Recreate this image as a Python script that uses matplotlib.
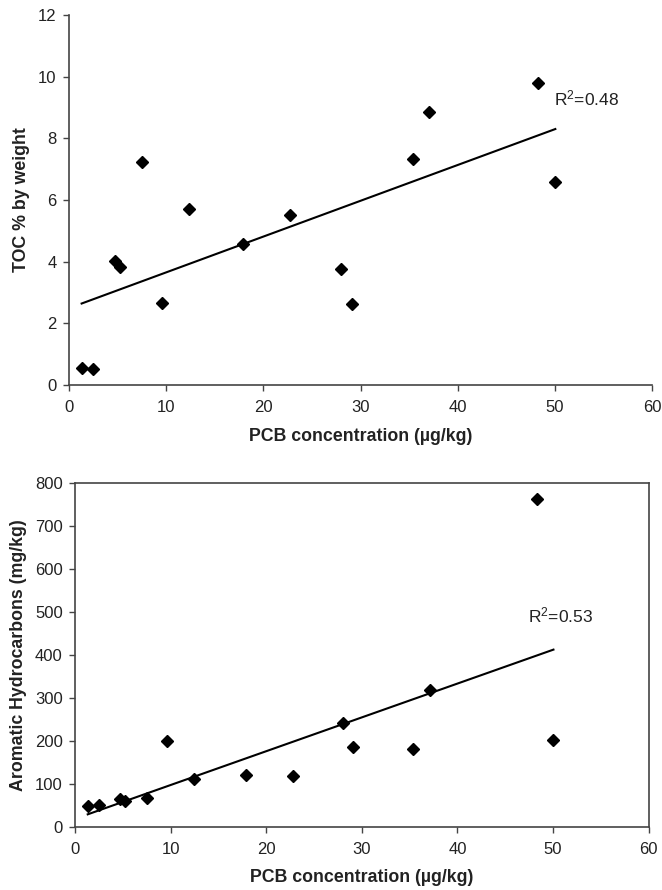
import matplotlib
matplotlib.use("agg")
from matplotlib import pyplot as plt
import numpy as np

plt.rcParams["font.family"] = ["Liberation Sans", "DejaVu Sans"]
plt.rcParams["mathtext.default"] = "regular"

# PCB concentration (ug/kg), shared by both panels
pcb = [1.3, 2.5, 4.7, 5.2, 7.5, 9.6, 12.4, 17.9, 22.75, 28.0, 29.1, 35.4, 37.1, 48.3, 50.05]
toc = [0.54, 0.51, 4.02, 3.84, 7.24, 2.67, 5.70, 4.56, 5.50, 3.77, 2.64, 7.33, 8.85, 9.81, 6.59]
aromatic = [47, 50, 64, 60, 67, 200, 112, 121, 119, 241, 186, 181, 317, 761, 202]
r2_labels = ["R$^{2}$=0.48", "R$^{2}$=0.53"]

fig = plt.figure(figsize=(6.62, 8.9), dpi=100)
ax1 = fig.add_axes([69 / 662, 1 - 385 / 890, 583 / 662, 370 / 890])
ax2 = fig.add_axes([75.3 / 662, 1 - 826.7 / 890, 573.2 / 662, 344 / 890])


def panel(ax, y, ylabel, yticks, r2, r2pos, box):
    x = np.array(pcb)
    y = np.array(y)
    k, b = np.polyfit(x, y, 1)
    xs = np.array([x.min(), x.max()])
    ax.plot(xs, k * xs + b, color="black", lw=1.5, zorder=2)
    ax.plot(x, y, "D", color="black", ms=6, zorder=3)
    ax.set_xlim(0, 60)
    ax.set_ylim(yticks[0], yticks[-1])
    ax.set_xticks(range(0, 61, 10))
    ax.set_yticks(yticks)
    ax.tick_params(direction="out", length=4, width=1, color="#444444",
                   labelsize=12, labelcolor="#222222")
    ax.tick_params(axis="x", pad=7)
    ax.tick_params(axis="y", pad=5)
    for side in ["left", "bottom", "top", "right"]:
        ax.spines[side].set_color("#444444")
        ax.spines[side].set_linewidth(1.2)
    if not box:
        ax.spines["top"].set_visible(False)
        ax.spines["right"].set_visible(False)
    ax.set_xlabel("PCB concentration (µg/kg)", fontsize=12.8, fontweight="bold",
                  color="#222222", labelpad=9)
    ax.set_ylabel(ylabel, fontsize=12.8, fontweight="bold", color="#222222", labelpad=6)
    ax.text(r2pos[0], r2pos[1], r2, fontsize=12.5, color="#222222", va="center", ha="left")


panel(ax1, toc, "TOC % by weight", list(range(0, 13, 2)), r2_labels[0], (49.9, 9.3), False)
panel(ax2, aromatic, "Aromatic Hydrocarbons (mg/kg)", list(range(0, 801, 100)),
      r2_labels[1], (47.4, 492), True)

fig.savefig("out.png", dpi=100)
